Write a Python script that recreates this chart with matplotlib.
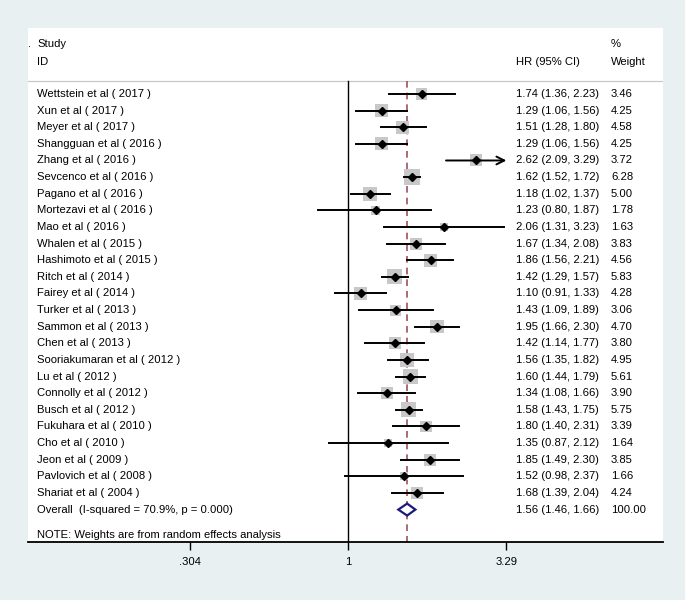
import matplotlib
matplotlib.use("Agg")
import matplotlib.pyplot as plt
import matplotlib.transforms as mtransforms
from matplotlib.patches import Polygon

plt.rcParams['font.family'] = ['Liberation Sans', 'DejaVu Sans']

# data
studies = ["Wettstein et al ( 2017 )", "Xun et al ( 2017 )", "Meyer et al ( 2017 )",
           "Shangguan et al ( 2016 )", "Zhang et al ( 2016 )", "Sevcenco et al ( 2016 )",
           "Pagano et al ( 2016 )", "Mortezavi et al ( 2016 )", "Mao et al ( 2016 )",
           "Whalen et al ( 2015 )", "Hashimoto et al ( 2015 )", "Ritch et al ( 2014 )",
           "Fairey et al ( 2014 )", "Turker et al ( 2013 )", "Sammon et al ( 2013 )",
           "Chen et al ( 2013 )", "Sooriakumaran et al ( 2012 )", "Lu et al ( 2012 )",
           "Connolly et al ( 2012 )", "Busch et al ( 2012 )", "Fukuhara et al ( 2010 )",
           "Cho et al ( 2010 )", "Jeon et al ( 2009 )", "Pavlovich et al ( 2008 )",
           "Shariat et al ( 2004 )"]
hr = [1.74, 1.29, 1.51, 1.29, 2.62, 1.62, 1.18, 1.23, 2.06, 1.67, 1.86, 1.42, 1.10,
      1.43, 1.95, 1.42, 1.56, 1.60, 1.34, 1.58, 1.80, 1.35, 1.85, 1.52, 1.68]
ci_lo = [1.36, 1.06, 1.28, 1.06, 2.09, 1.52, 1.02, 0.80, 1.31, 1.34, 1.56, 1.29, 0.91,
         1.09, 1.66, 1.14, 1.35, 1.44, 1.08, 1.43, 1.40, 0.87, 1.49, 0.98, 1.39]
ci_hi = [2.23, 1.56, 1.80, 1.56, 3.29, 1.72, 1.37, 1.87, 3.23, 2.08, 2.21, 1.57, 1.33,
         1.89, 2.30, 1.77, 1.82, 1.79, 1.66, 1.75, 2.31, 2.12, 2.30, 2.37, 2.04]
weights = [3.46, 4.25, 4.58, 4.25, 3.72, 6.28, 5.00, 1.78, 1.63, 3.83, 4.56, 5.83, 4.28,
           3.06, 4.70, 3.80, 4.95, 5.61, 3.90, 5.75, 3.39, 1.64, 3.85, 1.66, 4.24]
overall_label = "Overall  (I-squared = 70.9%, p = 0.000)"
overall_hr, overall_lo, overall_hi = 1.56, 1.46, 1.66
x_ticks = [0.304, 1, 3.29]
x_ticklabels = [".304", "1", "3.29"]

bg = '#e8f0f2'
fig = plt.figure(figsize=(6.85, 6), dpi=100, facecolor=bg)
ax = fig.add_axes([28/685, 58/600, 635/685, 514/600])
ax.set_facecolor('white')

ax.set_xscale('log')
ax.set_xlim(0.0902, 10.68)
n = len(studies)
y_bottom, y_top = 26.95, -3.97
ax.set_ylim(y_bottom, y_top)
y_head = -0.78

trans = mtransforms.blended_transform_factory(ax.transAxes, ax.transData)
fs = 8.1
x_name, x_ci, x_w = 0.0142, 0.7685, 0.918

# header
ax.text(0.0, -3.0, ".", transform=trans, fontsize=fs, va='center', ha='left')
ax.text(x_name, -3.0, "Study", transform=trans, fontsize=fs, va='center')
ax.text(x_name, -1.92, "ID", transform=trans, fontsize=fs, va='center')
ax.text(x_ci, -1.92, "HR (95% CI)", transform=trans, fontsize=fs, va='center')
ax.text(x_w, -3.0, "%", transform=trans, fontsize=fs, va='center')
ax.text(x_w, -1.92, "Weight", transform=trans, fontsize=fs, va='center')
ax.axhline(y_head, color='#c8c8c8', lw=0.9)

# reference lines
ax.plot([1, 1], [y_head, y_bottom], color='black', lw=1.0)
ax.plot([overall_hr, overall_hr], [y_head, y_bottom], color='#a0525a', lw=1.2,
        ls=(0, (4, 3)))

x_max = x_ticks[-1]
for i in range(n):
    ax.scatter(hr[i], i, marker='s', s=20 * weights[i], color='#c8c8c8',
               edgecolors='none', zorder=2)
    if ci_hi[i] >= x_max:
        ax.annotate("", xy=(x_max, i), xytext=(ci_lo[i], i),
                    arrowprops=dict(arrowstyle='->', lw=1.4, color='black',
                                    mutation_scale=14, shrinkA=0, shrinkB=0),
                    zorder=3)
    else:
        ax.plot([ci_lo[i], ci_hi[i]], [i, i], color='black', lw=1.4, zorder=3)
    ax.plot(hr[i], i, marker='D', color='black', markersize=3.8, zorder=4)
    ax.text(x_name, i, studies[i], transform=trans, fontsize=fs, va='center')
    ax.text(x_ci, i, f"{hr[i]:.2f} ({ci_lo[i]:.2f}, {ci_hi[i]:.2f})",
            transform=trans, fontsize=fs, va='center')
    ax.text(x_w, i, f"{weights[i]:.2f}", transform=trans, fontsize=fs, va='center')

# overall
yo = n
diamond = Polygon([[overall_lo, yo], [overall_hr, yo - 0.36], [overall_hi, yo],
                   [overall_hr, yo + 0.36]], closed=True, facecolor='white',
                  edgecolor='#1a1a80', lw=1.6, zorder=5)
ax.add_patch(diamond)
ax.text(x_name, yo, overall_label, transform=trans, fontsize=fs, va='center')
ax.text(x_ci, yo, f"{overall_hr:.2f} ({overall_lo:.2f}, {overall_hi:.2f})",
        transform=trans, fontsize=fs, va='center')
ax.text(x_w, yo, "100.00", transform=trans, fontsize=fs, va='center')
ax.text(x_name, 26.5, "NOTE: Weights are from random effects analysis",
        transform=trans, fontsize=fs, va='center')

# axes styling
for side in ['top', 'left', 'right']:
    ax.spines[side].set_visible(False)
ax.spines['bottom'].set_linewidth(1.3)
ax.set_yticks([])
ax.set_xticks(x_ticks)
ax.set_xticklabels(x_ticklabels, fontsize=fs)
ax.xaxis.set_minor_locator(matplotlib.ticker.NullLocator())
ax.tick_params(axis='x', length=6, width=1.0, pad=5)

fig.savefig("out.png", dpi=100, facecolor=bg)
